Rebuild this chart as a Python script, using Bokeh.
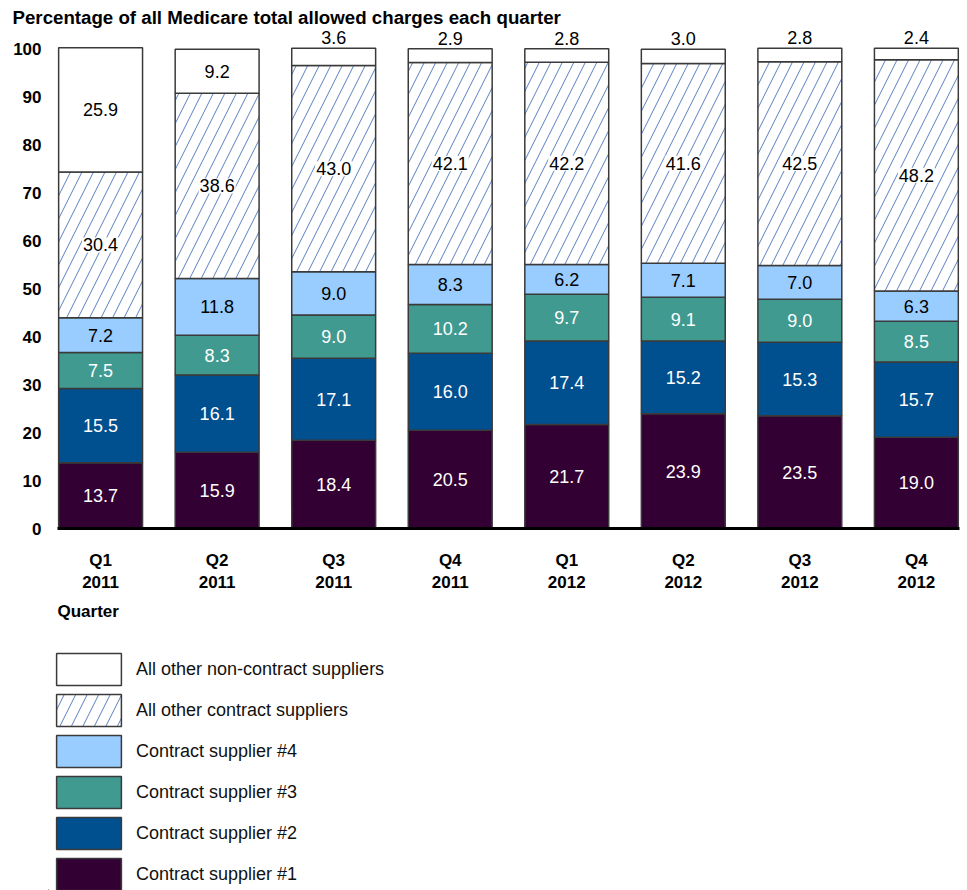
from bokeh.plotting import figure
from bokeh.layouts import column
from bokeh.models import ColumnDataSource, Legend, LegendItem, FixedTicker, Range1d, Title
from bokeh.core.properties import value
from bokeh.embed import file_html
from bokeh.resources import INLINE

# ---------------- data ----------------
quarters = ["Q1\n2011", "Q2\n2011", "Q3\n2011", "Q4\n2011",
            "Q1\n2012", "Q2\n2012", "Q3\n2012", "Q4\n2012"]
supplier_1 = [13.7, 15.9, 18.4, 20.5, 21.7, 23.9, 23.5, 19.0]
supplier_2 = [15.5, 16.1, 17.1, 16.0, 17.4, 15.2, 15.3, 15.7]
supplier_3 = [7.5, 8.3, 9.0, 10.2, 9.7, 9.1, 9.0, 8.5]
supplier_4 = [7.2, 11.8, 9.0, 8.3, 6.2, 7.1, 7.0, 6.3]
other_contract = [30.4, 38.6, 43.0, 42.1, 42.2, 41.6, 42.5, 48.2]
non_contract = [25.9, 9.2, 3.6, 2.9, 2.8, 3.0, 2.8, 2.4]
series_names = ["Contract supplier #1", "Contract supplier #2", "Contract supplier #3",
                "Contract supplier #4", "All other contract suppliers",
                "All other non-contract suppliers"]
y_ticks = [0, 10, 20, 30, 40, 50, 60, 70, 80, 90, 100]
title_text = "Percentage of all Medicare total allowed charges each quarter"
x_title = "Quarter"

# ---------------- styles ----------------
FONT = "Liberation Sans"
fills = ["#330033", "#004F8F", "#409A90", "#99CCFF", "white", "white"]
hatches = [None, None, None, None, "/", None]
text_colors = ["white", "white", "white", "black", "black", "black"]
outline = "#3a3a3a"
HATCH = dict(hatch_color="#5A7FC0", hatch_weight=1.0, hatch_scale=23)

series = [supplier_1, supplier_2, supplier_3, supplier_4, other_contract, non_contract]
xs = list(range(len(quarters)))

# both figures share the same horizontal geometry so their frames line up
p = figure(frame_width=911, frame_height=499,
           x_range=Range1d(-0.447, 7.37), y_range=Range1d(0, 104),
           output_backend="svg", toolbar_location=None,
           min_border_left=48, min_border_right=4, min_border_top=29,
           min_border_bottom=112)

p.title.text = title_text
p.title.text_font = FONT
p.title.text_font_size = "18.7px"
p.title.text_font_style = "bold"
p.title.text_color = "black"
p.title.align = "left"
p.title.offset = -36
p.title.standoff = 3

# legend figure: holds proxy bars (outside its visible range) and the legend
p2 = figure(frame_width=911, frame_height=241, x_range=Range1d(0, 1), y_range=Range1d(0, 1),
            output_backend="svg", toolbar_location=None,
            min_border_left=48, min_border_right=4, min_border_top=9, min_border_bottom=0)
p2.axis.visible = False
p2.grid.visible = False
p2.outline_line_color = None

renderers = []
bottom = [0.0] * len(xs)
for vals, fill, hatch, tcol, name in zip(series, fills, hatches, text_colors, series_names):
    top = [b + v for b, v in zip(bottom, vals)]
    src = ColumnDataSource(dict(x=xs, bottom=bottom, top=top))
    kw = dict(width=0.72, fill_color=fill, line_color=outline, line_width=1.5)
    if hatch:
        kw.update(hatch_pattern=hatch, **HATCH)
    p.vbar(x="x", bottom="bottom", top="top", source=src, **kw)
    # proxy renderer for the legend, placed outside p2's visible range
    r2 = p2.vbar(x=[-10], bottom=[-10], top=[-9], **kw)
    renderers.append((name, r2))

    inside_x, inside_y, inside_t = [], [], []
    above_x, above_y, above_t = [], [], []
    for x, b, t, v in zip(xs, bottom, top, vals):
        if name == "All other non-contract suppliers" and v < 5:
            above_x.append(x); above_y.append(t); above_t.append(f"{v:.1f}")
        else:
            inside_x.append(x); inside_y.append((b + t) / 2); inside_t.append(f"{v:.1f}")
    tkw = dict(text_align="center", text_baseline="middle", text_color=tcol,
               text_font=value(FONT), text_font_size="18px")
    if hatch:
        tkw.update(background_fill_color="white", padding=1)
    p.text(x="x", y="y", text="t",
           source=ColumnDataSource(dict(x=inside_x, y=inside_y, t=inside_t)), **tkw)
    if above_x:
        p.text(x="x", y="y", text="t",
               source=ColumnDataSource(dict(x=above_x, y=above_y, t=above_t)),
               text_align="center", text_baseline="bottom", y_offset=-4,
               text_color="black", text_font=value(FONT), text_font_size="18px")
    bottom = top

# axes
p.xaxis.ticker = FixedTicker(ticks=xs)
p.xaxis.bounds = (-0.37, 7.37)
p.xaxis.major_label_overrides = {i: q for i, q in enumerate(quarters)}
p.xaxis.axis_line_width = 3
p.xaxis.axis_line_color = "black"
p.xaxis.major_tick_line_color = None
p.xaxis.minor_tick_line_color = None
p.xaxis.major_label_standoff = 16
p.xaxis.major_label_text_font = FONT
p.xaxis.major_label_text_font_size = "17px"
p.xaxis.major_label_text_font_style = "bold"
p.xaxis.major_label_text_color = "black"

p.yaxis.ticker = FixedTicker(ticks=y_ticks)
p.yaxis.axis_line_color = None
p.yaxis.major_tick_line_color = None
p.yaxis.minor_tick_line_color = None
p.yaxis.major_label_standoff = 1
p.yaxis.major_label_text_font = FONT
p.yaxis.major_label_text_font_size = "17px"
p.yaxis.major_label_text_font_style = "bold"
p.yaxis.major_label_text_color = "black"

p.xgrid.visible = False
p.ygrid.visible = False
p.outline_line_color = None

p.add_layout(Title(text=x_title, align="left", offset=9, text_font=FONT, text_font_size="17px",
                   text_font_style="bold", text_color="black", standoff=8), "below")

items = [LegendItem(label=n, renderers=[r]) for n, r in reversed(renderers)]
legend = Legend(items=items, location="top_left", glyph_width=81, glyph_height=40,
                label_height=40, spacing=1, label_standoff=7, padding=0, margin=0,
                border_line_color=None, background_fill_alpha=0,
                label_text_font=FONT, label_text_font_size="18px",
                label_text_color="#111111")
p2.add_layout(legend, "center")

layout = column(p, p2, spacing=0)
open("out.html", "w").write(file_html(layout, INLINE))
